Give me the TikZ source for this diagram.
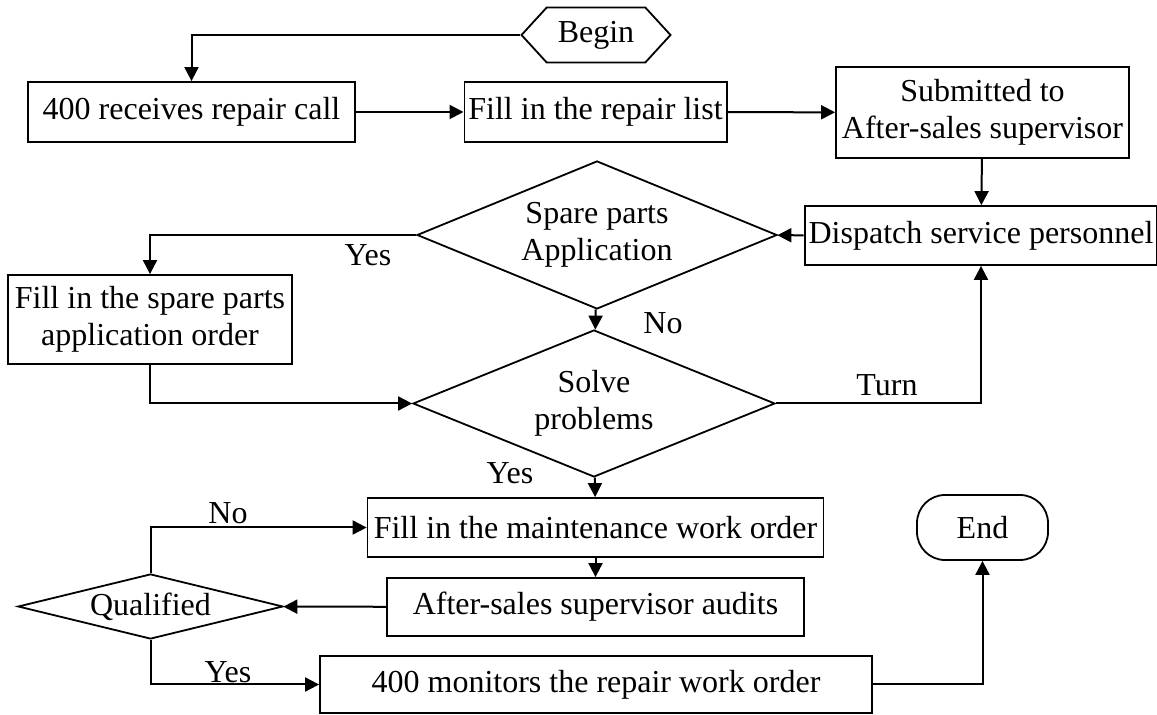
\documentclass[tikz,border=0pt]{standalone}
\usepackage{fontspec}
\setmainfont{Liberation Serif}
\usetikzlibrary{shapes.geometric,shapes.symbols,arrows.meta}
\tikzstyle{proc} = [draw=black, line width=0.9pt, rectangle, inner sep=2pt, align=center]
\tikzstyle{decide} = [draw=black, line width=0.9pt, diamond, inner sep=0pt, align=center]
\tikzstyle{startnode} = [draw=black, line width=0.9pt, signal, signal to=east and west, signal pointer angle=95, minimum width=74.5pt, minimum height=27.5pt]
\tikzstyle{endnode} = [draw=black, line width=0.9pt, rectangle, rounded corners=14pt, minimum width=65.5pt, minimum height=32.5pt]
\tikzstyle{flow} = [line width=1pt, -{Triangle[length=7pt,width=7pt]}]
\tikzstyle{lbl} = [inner sep=0pt]

\begin{document}
\begin{tikzpicture}[x=0.5pt,y=-0.5pt,font=\fontsize{16}{18.5}\selectfont]
        \useasboundingbox (0,0) rectangle (1157,715);
        \node[startnode](begin) at (596,35){Begin};
        \node[proc,minimum width=163.5pt,minimum height=30pt](recv) at (191.5,112){400 receives repair call};
        \node[proc,minimum width=128.5pt,minimum height=30pt](list) at (595.5,112){Fill in the repair list};
        \node[proc,minimum width=146.5pt,minimum height=45.5pt](sub) at (982.5,112.5){Submitted to\\After-sales supervisor};
        \node[proc,minimum width=174pt,minimum height=29.5pt](disp) at (981,235.5){Dispatch service personnel};
        \node[decide,minimum width=180pt,minimum height=74pt,aspect=2.43](spare) at (597,235){Spare parts\\Application};
        \node[proc,minimum width=142pt,minimum height=44.5pt](sparebox) at (150,319.5){Fill in the spare parts\\application order};
        \node[decide,minimum width=181pt,minimum height=73.5pt,aspect=2.46](solve) at (594,403.5){Solve\\problems};
        \node[proc,minimum width=228pt,minimum height=29.5pt](maint) at (595.5,527.5){Fill in the maintenance work order};
        \node[proc,minimum width=208.5pt,minimum height=29pt](audit) at (595.5,607){After-sales supervisor audits};
        \node[decide,minimum width=132.5pt,minimum height=32.5pt,aspect=4.08](qual) at (150.5,606.5){Qualified};
        \node[proc,minimum width=276pt,minimum height=28.5pt](mon) at (596,684.5){400 monitors the repair work order};
        \node[endnode](stop) at (982.5,527.5){End};
        \node[lbl](yes1) at (368,255){Yes};
        \node[lbl](no1) at (663,323){No};
        \node[lbl](turn) at (887,385){Turn};
        \node[lbl](yes2) at (510,473){Yes};
        \node[lbl](no2) at (228,513){No};
        \node[lbl](yes3) at (228,672){Yes};
        \draw[flow](begin.west)-|(recv.north);
        \draw[flow](recv)--(list);
        \draw[flow](list)--(sub);
        \draw[flow](sub)--(disp);
        \draw[flow](disp)--(spare);
        \draw[flow](spare.west)-|(sparebox.north);
        \draw[flow](spare)--(solve);
        \draw[flow](sparebox.south)|-(solve.west);
        \draw[flow](solve.east)-|(disp.south);
        \draw[flow](solve)--(maint);
        \draw[flow](maint)--(audit);
        \draw[flow](audit)--(qual);
        \draw[flow](qual.north)|-(maint.west);
        \draw[flow](qual.south)|-(mon.west);
        \draw[flow](mon.east)-|(stop.south);
      \end{tikzpicture}
\end{document}
